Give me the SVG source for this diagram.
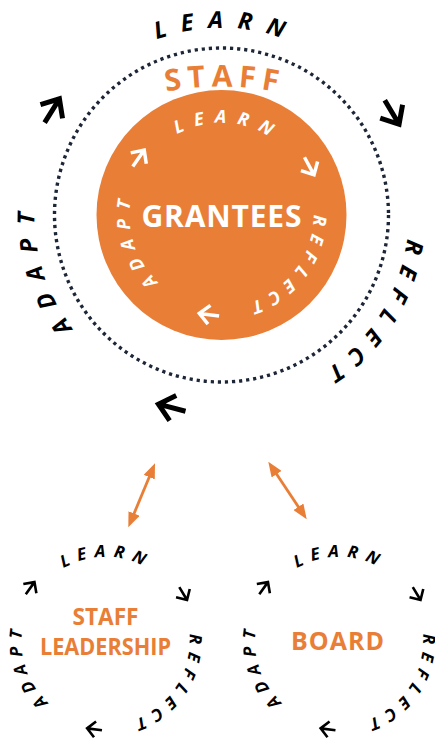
<svg xmlns="http://www.w3.org/2000/svg" width="435" height="740" viewBox="0 0 435 740">
  <style>
    .cyc { font-family: "Open Sans", "Liberation Sans", sans-serif; font-weight: 700; font-style: italic; text-anchor: middle; }
    .outer { font-size: 23.5px; fill: #000; }
    .inner { font-size: 18px; fill: #fff; }
    .small { font-size: 17px; fill: #000; }
    .arr { fill: none; stroke-linejoin: miter; stroke-linecap: butt; }
    .arr-outer { stroke: #000; stroke-width: 5; }
    .arr-inner { stroke: #fff; stroke-width: 3.5; }
    .arr-small { stroke: #000; stroke-width: 2.6; }
    .title { font-family: "Open Sans", "Liberation Sans", sans-serif; font-weight: 700; text-anchor: middle; }
    .orange { fill: #E97E36; }
    .link { fill: none; stroke: #E97E36; stroke-width: 2.8; marker-start: url(#head); marker-end: url(#head); }
  </style>
  <defs>
    <!-- clockwise circles starting at the bottom, centred on the origin -->
    <path id="ring-outer" d="M0,187 A187,187 0 0 1 0,-187 A187,187 0 0 1 0,187"/>
    <path id="ring-inner" d="M0,92 A92,92 0 0 1 0,-92 A92,92 0 0 1 0,92"/>
    <path id="ring-small" d="M0,84 A84,84 0 0 1 0,-84 A84,84 0 0 1 0,84"/>
    <path id="staff-arc" d="M-150,-88.3 A300,300 0 0 1 150,-88.3"/>
    <!-- cycle arrows, pointing along +x -->
    <path id="arrow-lg" d="M-15,0 H13 M-2,-13 L13,0 L-2,13"/>
    <path id="arrow-md" d="M-11,0 H9 M-1,-9.5 L9,0 L-1,9.5"/>
    <path id="arrow-sm" d="M-8,0 H7 M-1,-8 L7,0 L-1,8"/>
    <marker id="head" viewBox="0 0 15 12" refX="5" refY="6" markerWidth="15" markerHeight="12" markerUnits="userSpaceOnUse" orient="auto-start-reverse">
      <path d="M0,0 L15,6 L0,12 Z" fill="#E97E36"/>
    </marker>
  </defs>

  <!-- staff: dotted ring with the outer learn / reflect / adapt cycle -->
  <g id="staff" transform="translate(221.5,215)">
    <circle r="167" fill="none" stroke="#1D2637" stroke-width="3.4" stroke-dasharray="3.2 3.9"/>
    <text class="title orange" font-size="30" letter-spacing="6"><textPath href="#staff-arc" startOffset="50.96%">STAFF</textPath></text>
    <text class="cyc outer" letter-spacing="14"><textPath href="#ring-outer" startOffset="50.4%">LEARN</textPath></text>
    <text class="cyc outer" letter-spacing="11"><textPath href="#ring-outer" startOffset="84.2%">REFLECT</textPath></text>
    <text class="cyc outer" letter-spacing="13"><textPath href="#ring-outer" startOffset="20.5%">ADAPT</textPath></text>
    <use href="#arrow-lg" class="arr arr-outer" transform="rotate(301.9) translate(0,-199)"/>
    <use href="#arrow-lg" class="arr arr-outer" transform="rotate(59.2) translate(0,-199)"/>
    <use href="#arrow-lg" class="arr arr-outer" transform="rotate(194.7) translate(0,-199)"/>
  </g>

  <!-- grantees: orange disc with the inner cycle -->
  <g id="grantees" transform="translate(221.5,215)">
    <circle r="125" class="orange"/>
    <text class="title" x="0" y="12" font-size="30" fill="#fff" textLength="160" lengthAdjust="spacing">GRANTEES</text>
    <text class="cyc inner" letter-spacing="10.4"><textPath href="#ring-inner" startOffset="51.2%" dy="2">LEARN</textPath></text>
    <text class="cyc inner" letter-spacing="7.4"><textPath href="#ring-inner" startOffset="85.5%">REFLECT</textPath></text>
    <text class="cyc inner" letter-spacing="8.4"><textPath href="#ring-inner" startOffset="20.5%">ADAPT</textPath></text>
    <use href="#arrow-md" class="arr arr-inner" transform="rotate(304.9) translate(0,-100.5)"/>
    <use href="#arrow-md" class="arr arr-inner" transform="rotate(61.4) translate(0,-100.5)"/>
    <use href="#arrow-md" class="arr arr-inner" transform="rotate(187.6) translate(0,-100.5)"/>
  </g>

  <!-- staff leadership cycle -->
  <g id="staff-leadership" transform="translate(105.5,641)">
    <text class="title orange" x="0" y="-16" font-size="24" textLength="66" lengthAdjust="spacingAndGlyphs">STAFF</text>
    <text class="title orange" x="0" y="14" font-size="24" textLength="131" lengthAdjust="spacingAndGlyphs">LEADERSHIP</text>
    <text class="cyc small" letter-spacing="7.7"><textPath href="#ring-small" startOffset="50.2%">LEARN</textPath></text>
    <text class="cyc small" letter-spacing="7.1"><textPath href="#ring-small" startOffset="84.6%">REFLECT</textPath></text>
    <text class="cyc small" letter-spacing="6.8"><textPath href="#ring-small" startOffset="20.1%">ADAPT</textPath></text>
    <use href="#arrow-sm" class="arr arr-small" transform="rotate(305.3) translate(0,-92)"/>
    <use href="#arrow-sm" class="arr arr-small" transform="rotate(58.9) translate(0,-91)"/>
    <use href="#arrow-sm" class="arr arr-small" transform="rotate(187.4) translate(0,-89)"/>
  </g>

  <!-- board cycle -->
  <g id="board" transform="translate(339,641)">
    <text class="title orange" x="-1" y="9" font-size="25" letter-spacing="1">BOARD</text>
    <text class="cyc small" letter-spacing="7.7"><textPath href="#ring-small" startOffset="50.2%">LEARN</textPath></text>
    <text class="cyc small" letter-spacing="7.1"><textPath href="#ring-small" startOffset="84.6%">REFLECT</textPath></text>
    <text class="cyc small" letter-spacing="6.8"><textPath href="#ring-small" startOffset="20.1%">ADAPT</textPath></text>
    <use href="#arrow-sm" class="arr arr-small" transform="rotate(305.3) translate(0,-92)"/>
    <use href="#arrow-sm" class="arr arr-small" transform="rotate(58.9) translate(0,-91)"/>
    <use href="#arrow-sm" class="arr arr-small" transform="rotate(187.4) translate(0,-89)"/>
  </g>

  <!-- two-way links between the main cycle and the smaller ones -->
  <g id="connectors">
    <line class="link" x1="151.15" y1="472.5" x2="132.15" y2="518.1"/>
    <line class="link" x1="273.85" y1="470" x2="301.15" y2="511"/>
  </g>
</svg>
